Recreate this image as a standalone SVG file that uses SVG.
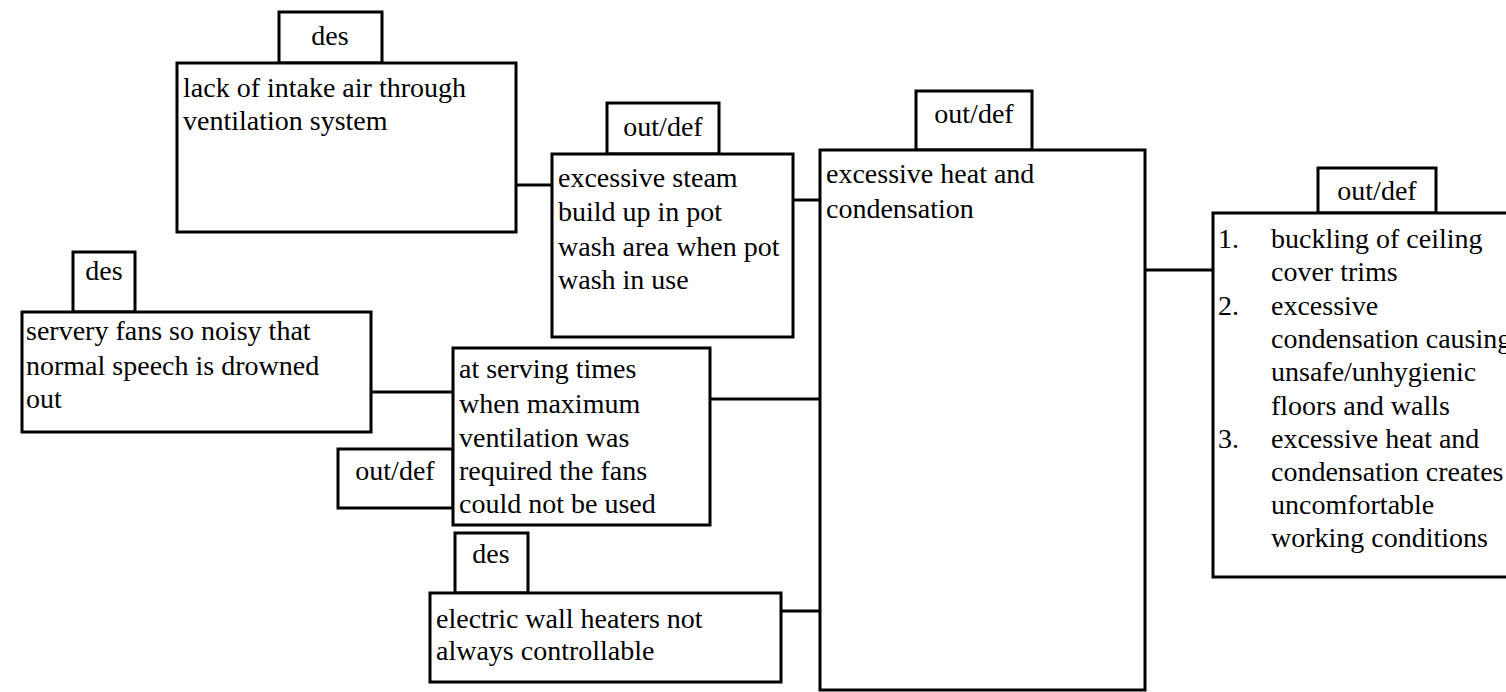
<svg xmlns="http://www.w3.org/2000/svg" width="1506" height="692" viewBox="0 0 1506 692">
<style>
.box{fill:#fff;stroke:#000;stroke-width:3}
text{font-family:'Liberation Serif','Times New Roman','DejaVu Serif',Times,serif;font-size:28px;fill:#000}
.c{text-anchor:middle}
.ln{stroke:#000;stroke-width:3;fill:none}
</style>
<rect width="1506" height="692" fill="#fff"/>
<g id="connectors">
<line class="ln" x1="516" y1="185" x2="552" y2="185"/>
<line class="ln" x1="793" y1="200" x2="820" y2="200"/>
<line class="ln" x1="371" y1="392" x2="453" y2="392"/>
<line class="ln" x1="710" y1="399" x2="820" y2="399"/>
<line class="ln" x1="781" y1="611" x2="820" y2="611"/>
<line class="ln" x1="1145" y1="270" x2="1213" y2="270"/>
</g>
<g font-family="Liberation Serif, Times New Roman, serif">
<g id="node-intake">
<rect class="box" x="279" y="12" width="103" height="51"/>
<text class="c" x="330" y="45">des</text>
<rect class="box" x="177" y="63" width="339" height="169"/>
<text x="183" y="97">lack of intake air through</text>
<text x="183" y="130">ventilation system</text>
</g>
<g id="node-steam">
<rect class="box" x="607" y="103" width="112" height="51"/>
<text class="c" x="663" y="136">out/def</text>
<rect class="box" x="552" y="154" width="241" height="183"/>
<text x="558" y="187">excessive steam</text>
<text x="558" y="221">build up in pot</text>
<text x="558" y="256">wash area when pot</text>
<text x="558" y="289">wash in use</text>
</g>
<g id="node-heat">
<rect class="box" x="916" y="91" width="116" height="59"/>
<text class="c" x="974" y="123">out/def</text>
<rect class="box" x="820" y="150" width="325" height="540"/>
<text x="826" y="183">excessive heat and</text>
<text x="826" y="218">condensation</text>
</g>
<g id="node-effects">
<rect class="box" x="1318" y="168" width="118" height="45"/>
<text class="c" x="1377" y="200">out/def</text>
<rect class="box" x="1213" y="213" width="320" height="364"/>
<text x="1218" y="248">1.</text>
<text x="1271" y="248">buckling of ceiling</text>
<text x="1271" y="281">cover trims</text>
<text x="1218" y="315">2.</text>
<text x="1271" y="315">excessive</text>
<text x="1271" y="348">condensation causing</text>
<text x="1271" y="381">unsafe/unhygienic</text>
<text x="1271" y="415">floors and walls</text>
<text x="1218" y="448">3.</text>
<text x="1271" y="448">excessive heat and</text>
<text x="1271" y="481">condensation creates</text>
<text x="1271" y="514">uncomfortable</text>
<text x="1271" y="547">working conditions</text>
</g>
<g id="node-servery">
<rect class="box" x="73" y="252" width="62" height="60"/>
<text class="c" x="104" y="280">des</text>
<rect class="box" x="22" y="312" width="349" height="120"/>
<text x="26" y="340">servery fans so noisy that</text>
<text x="26" y="375">normal speech is drowned</text>
<text x="26" y="408">out</text>
</g>
<g id="node-serving">
<rect class="box" x="338" y="449" width="115" height="59"/>
<text class="c" x="395" y="480">out/def</text>
<rect class="box" x="453" y="348" width="257" height="177"/>
<text x="459" y="378">at serving times</text>
<text x="459" y="413">when maximum</text>
<text x="459" y="447">ventilation was</text>
<text x="459" y="480">required the fans</text>
<text x="459" y="513">could not be used</text>
</g>
<g id="node-heaters">
<rect class="box" x="455" y="533" width="73" height="60"/>
<text class="c" x="491" y="563">des</text>
<rect class="box" x="430" y="593" width="351" height="89"/>
<text x="436" y="628">electric wall heaters not</text>
<text x="436" y="660">always controllable</text>
</g>
</g>
</svg>
